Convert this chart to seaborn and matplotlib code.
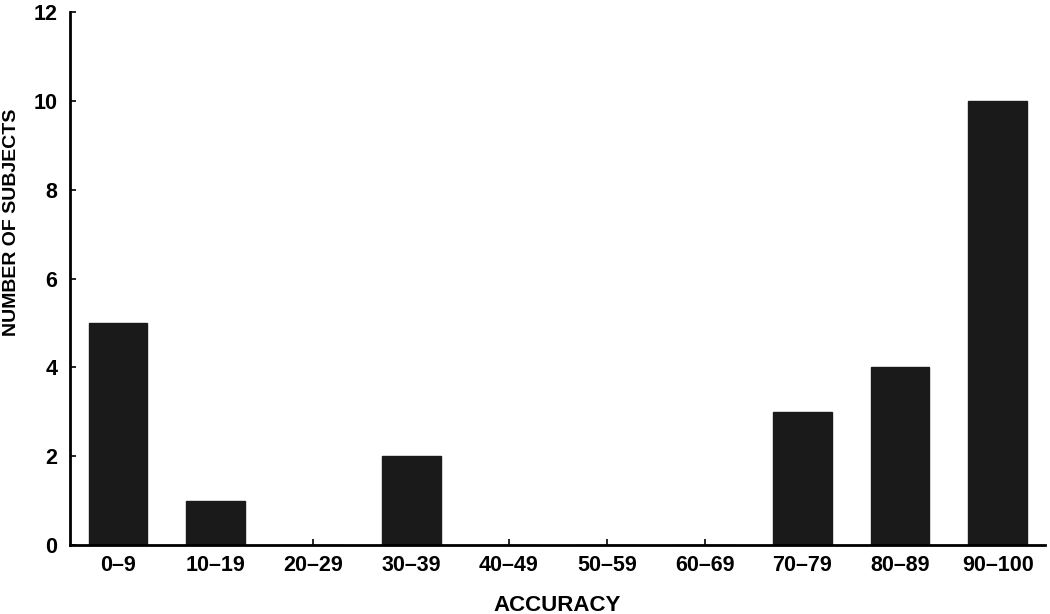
import pandas as pd
import numpy as np
import matplotlib
matplotlib.use("Agg")
import matplotlib.pyplot as plt
import seaborn as sns

ranges = ["0\u20139", "10\u201319", "20\u201329", "30\u201339", "40\u201349",
          "50\u201359", "60\u201369", "70\u201379", "80\u201389", "90\u2013100"]
subjects = [5, 1, 0, 2, 0, 0, 0, 3, 4, 10]

df = pd.DataFrame({"accuracy": ranges, "subjects": subjects})

sns.set_style("ticks", {"text.color": "black", "axes.labelcolor": "black",
                        "xtick.color": "black", "ytick.color": "black"})
plt.rcParams['font.family'] = ['Liberation Sans', 'DejaVu Sans']

fig = plt.figure(figsize=(10.5, 6.14), dpi=100)
ax = fig.add_axes([0.0667, 0.1124, 0.9283, 0.868])

sns.barplot(data=df, x="accuracy", y="subjects", color="#1a1a1a", width=0.6,
            saturation=1, edgecolor="#1a1a1a", ax=ax)

ax.set_xlim(-0.49, 9.48)
ax.set_ylim(0, 12)
ax.set_yticks(range(0, 13, 2))
ax.set_xlabel("ACCURACY", fontsize=16, fontweight="bold", va="baseline")
ax.set_ylabel("NUMBER OF SUBJECTS", fontsize=14, fontweight="bold", va="baseline")
ax.xaxis.set_label_coords(0.5, -0.124)
ax.yaxis.set_label_coords(-0.055, 0.605)
ax.tick_params(axis="both", direction="in", length=4, width=1.2, labelsize=15.5,
               colors="black")
ax.tick_params(axis="x", pad=7)
ax.tick_params(axis="y", pad=9)
for lbl in ax.get_xticklabels() + ax.get_yticklabels():
    lbl.set_fontweight("bold")

sns.despine(ax=ax)
for s in ["left", "bottom"]:
    ax.spines[s].set_linewidth(2)
    ax.spines[s].set_color("black")

fig.savefig("out.png", dpi=100)
